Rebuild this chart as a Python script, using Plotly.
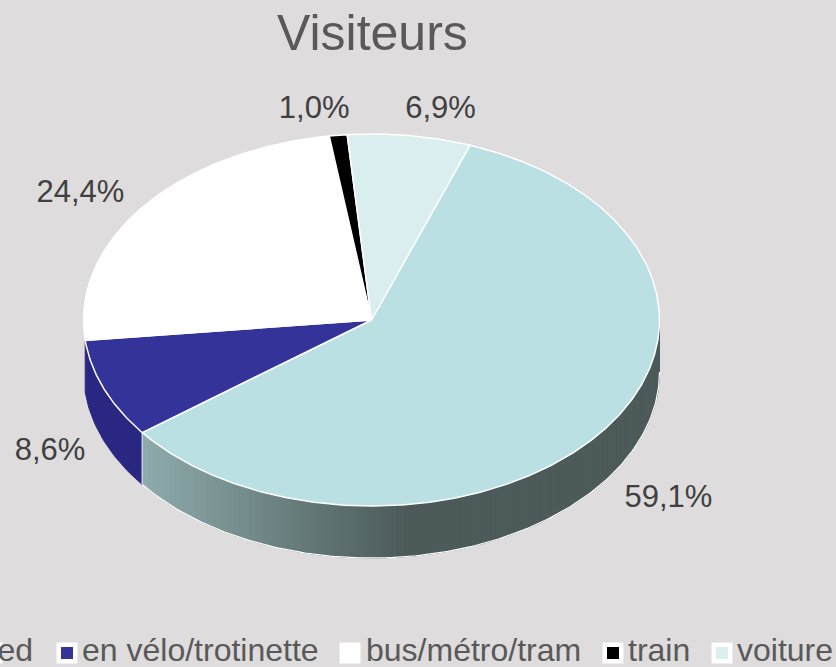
import numpy as np
import plotly.graph_objects as go

# --- data ---
categories = ["à pied", "en vélo/trotinette", "bus/métro/tram", "train", "voiture"]
values = [59.1, 8.6, 24.4, 1.0, 6.9]
labels = ["59,1%", "8,6%", "24,4%", "1,0%", "6,9%"]
title = "Visiteurs"

# --- style ---
colors = ["#BBE0E3", "#333399", "#FFFFFF", "#000000", "#DAEDEF"]
BG = "#DEDCDD"
LABEL_OFFSET = [(65, 69), (-54, 63), (-63, -12), (-24, -25), (31, -25)]
LEGEND_MARK_X = [-8, 67, 350, 613, 722]
LEGEND_TEXT_X = [33, 82, 366, 628, 737]
LEGEND_MARK_Y = 653
LEGEND_TEXT_Y = 653
W, H = 836, 667
CX, CY, RX, RY, DEPTH = 371.5, 320, 288, 186, 52
START = 20.0
FONT = "Liberation Sans"


def rim(deg):
    a = np.radians(deg)
    return CX + RX * np.sin(a), CY - RY * np.cos(a)


def wall_color(x):
    t = min(max((x - 143) / (405 - 143), 0), 1)
    c0, c1 = np.array([142, 171, 171]), np.array([76, 90, 90])
    r, g, b = (c0 + (c1 - c0) * t).round().astype(int)
    return f"rgb({r},{g},{b})"


fig = go.Figure()
edges = START + np.concatenate([[0], np.cumsum(values)]) * 3.6

# side wall of the first slice (gradient) and second slice (flat dark blue)
lo, hi = max(edges[0], 90), min(edges[1], 270)
steps = np.linspace(lo, hi, 90)
for a0, a1 in zip(steps[:-1], steps[1:]):
    x0, y0 = rim(a0)
    x1, y1 = rim(a1)
    col = wall_color((x0 + x1) / 2)
    fig.add_trace(go.Scatter(x=[x0, x1, x1, x0, x0], y=[y0, y1, y1 + DEPTH, y0 + DEPTH, y0],
                             mode="lines", fill="toself", fillcolor=col,
                             line=dict(color=col, width=1), hoverinfo="skip"))
arc = np.linspace(edges[1], edges[2], 30)
xa, ya = rim(arc)
xs = np.concatenate([xa, xa[::-1], xa[:1]])
ys = np.concatenate([ya, ya[::-1] + DEPTH, ya[:1]])
fig.add_trace(go.Scatter(x=xs, y=ys, mode="lines", fill="toself", fillcolor="#2A2782",
                         line=dict(color="#2A2782", width=1), hoverinfo="skip"))

# white outer rim of the wall and seam between walls
arc = np.linspace(max(edges[0], 90), edges[1], 200)
xa, ya = rim(arc)
fig.add_trace(go.Scatter(x=xa, y=ya + DEPTH, mode="lines",
                         line=dict(color="#FFFFFF", width=1.2), hoverinfo="skip"))
sx, sy = rim(edges[1])
fig.add_trace(go.Scatter(x=[sx, sx], y=[sy, sy + DEPTH], mode="lines",
                         line=dict(color="#E8EEEE", width=1.2), hoverinfo="skip"))

# top faces
for i, (c, a0, a1) in enumerate(zip(colors, edges[:-1], edges[1:])):
    arc = np.linspace(a0, a1, max(int(a1 - a0) * 2, 8))
    xa, ya = rim(arc)
    fig.add_trace(go.Scatter(x=np.concatenate([[CX], xa, [CX]]), y=np.concatenate([[CY], ya, [CY]]),
                             mode="lines", fill="toself", fillcolor=c,
                             line=dict(color="#FFFFFF", width=1.5), hoverinfo="skip", name=categories[i]))

# percentage labels
mids = (edges[:-1] + edges[1:]) / 2
lx, ly = rim(mids)
fig.add_trace(go.Scatter(x=lx + np.array([o[0] for o in LABEL_OFFSET]),
                         y=ly + np.array([o[1] for o in LABEL_OFFSET]),
                         mode="text", text=labels, textposition="middle center",
                         textfont=dict(family=FONT, size=31, color="#404040"), hoverinfo="skip"))

# legend
fig.add_trace(go.Scatter(x=LEGEND_MARK_X, y=[LEGEND_MARK_Y] * len(categories), mode="markers",
                         marker=dict(symbol="square", size=16.5, color=colors,
                                     line=dict(color="#FFFFFF", width=4.5)), hoverinfo="skip"))
fig.add_trace(go.Scatter(x=LEGEND_TEXT_X[1:], y=[LEGEND_TEXT_Y] * 4, mode="text", text=categories[1:],
                         textposition="middle right",
                         textfont=dict(family=FONT, size=32, color="#595959"), hoverinfo="skip"))
fig.add_trace(go.Scatter(x=LEGEND_TEXT_X[:1], y=[LEGEND_TEXT_Y], mode="text", text=categories[:1],
                         textposition="middle left",
                         textfont=dict(family=FONT, size=32, color="#595959"), hoverinfo="skip"))

fig.update_layout(
    width=W, height=H, showlegend=False, paper_bgcolor=BG, plot_bgcolor=BG,
    margin=dict(l=0, r=0, t=0, b=0),
    xaxis=dict(range=[0, W], visible=False, fixedrange=True),
    yaxis=dict(range=[H, 0], visible=False, fixedrange=True),
    annotations=[dict(text=title, x=372, y=33, xref="x", yref="y", showarrow=False,
                      font=dict(family=FONT, size=50, color="#595959"))],
)
fig.write_html("out.html", config={"displayModeBar": False},
               post_script="document.body.style.margin='0';document.documentElement.style.overflow='hidden';"
                           "document.body.style.background='#DEDCDD';")
